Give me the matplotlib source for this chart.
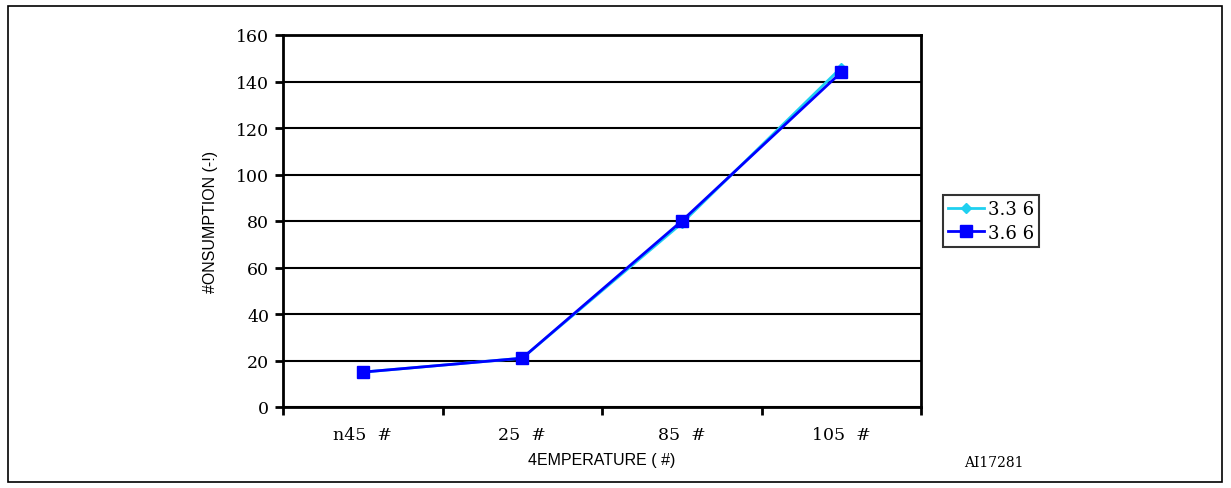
import matplotlib.pyplot as plt
from matplotlib.patches import Rectangle

categories = ['n45  #', '25  #', '85  #', '105  #']
v33 = [15, 21, 79, 146]
v36 = [15, 21, 80, 144]
yticks = [0, 20, 40, 60, 80, 100, 120, 140, 160]

plt.rcParams['font.family'] = ['DejaVu Serif']
narrow = ['Liberation Sans', 'DejaVu Sans']

fig = plt.figure(figsize=(12.31, 4.89), dpi=100)
ax = fig.add_axes([283/1231, 81/489, 638/1231, 372/489])

x = [i + 0.5 for i in range(len(categories))]
ax.plot(x, v33, color='#1fd0f0', lw=2, marker='D', ms=5, label='3.3 6', zorder=3)
ax.plot(x, v36, color='#0000ff', lw=2, marker='s', ms=8, label='3.6 6', zorder=4)

ax.set_xlim(0, 4)
ax.set_ylim(0, 160)
ax.set_yticks(yticks)
ax.set_xticks(range(5))
ax.set_xticklabels([])
ax.set_xticks(x, minor=True)
ax.set_xticklabels(categories, minor=True, fontsize=12.5)
ax.tick_params(axis='x', which='minor', length=0, pad=14)
ax.tick_params(axis='x', which='major', direction='out', length=6, width=2)
ax.tick_params(axis='y', direction='out', length=6, width=2, labelsize=12.5, pad=4)
ax.yaxis.grid(True, color='black', lw=1.5)
ax.set_axisbelow(True)
for s in ax.spines.values():
    s.set_linewidth(2)

ax.set_xlabel('4EMPERATURE ( #)', fontsize=11.5, family=narrow, labelpad=6)
ax.set_ylabel('#ONSUMPTION (-!)', fontsize=11.5, family=narrow, labelpad=13)

leg = ax.legend(loc='center left', bbox_to_anchor=(1.02, 0.5), frameon=True, fancybox=False,
                fontsize=13, handlelength=2.0, borderpad=0.3, labelspacing=0.3, handletextpad=0.2)
leg.get_frame().set_edgecolor('black')
leg.get_frame().set_linewidth(1.5)

fig.text(994/1231, 1 - 463/489, 'AI17281', fontsize=10, ha='center', va='center')
fig.patches.append(Rectangle((8/1231, 6/489), 1214/1231, 476/489, transform=fig.transFigure,
                             fill=False, edgecolor='black', lw=1.2))

fig.savefig('out.png', dpi=100)
